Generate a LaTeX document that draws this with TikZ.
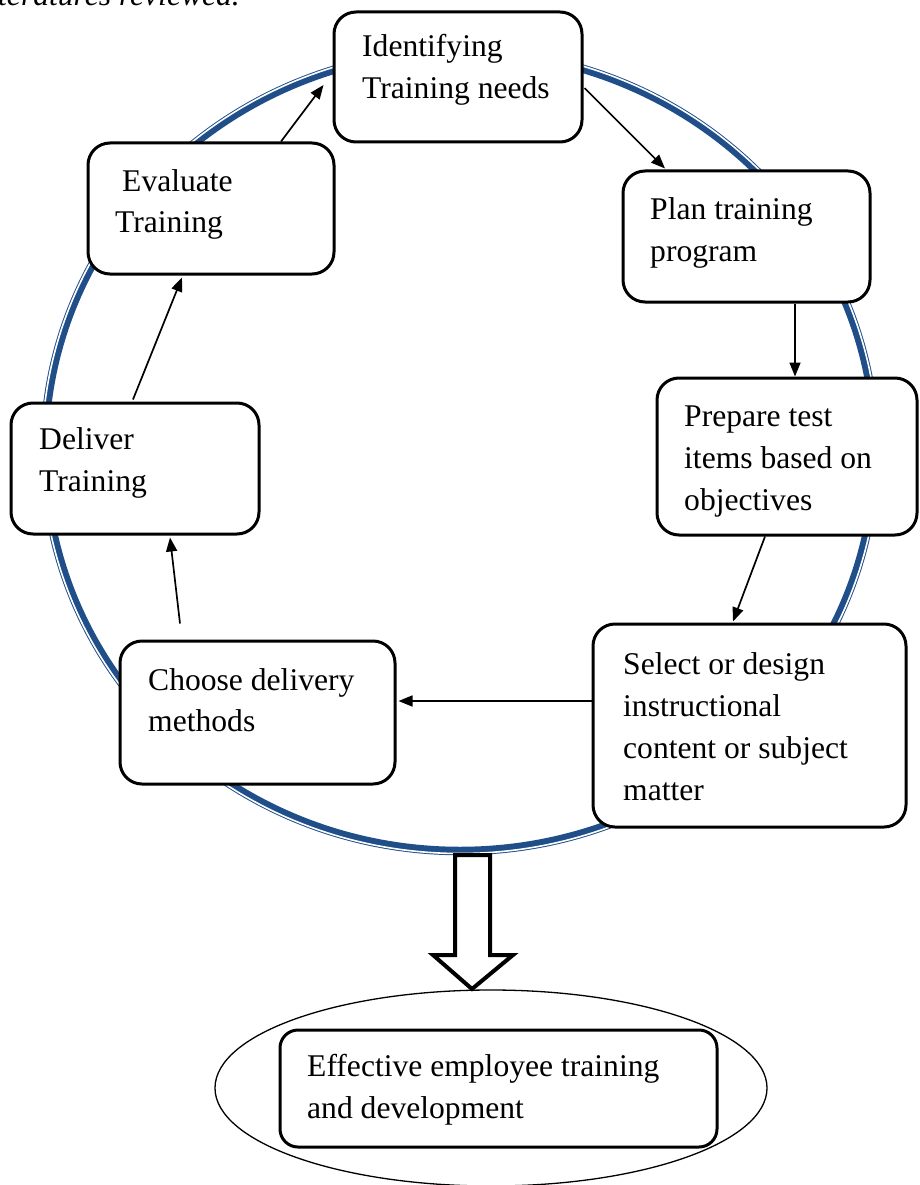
\documentclass[tikz,border=0pt]{standalone}
\usepackage{fontspec}
\setmainfont{Liberation Serif}
\usetikzlibrary{shapes.geometric,arrows.meta,calc}
\definecolor{ringblue}{RGB}{31,78,137}
\begin{document}
\begin{tikzpicture}[x=1pt,y=-1pt,
  box/.style={draw,line width=3pt,rounded corners=22pt,fill=white,inner sep=0pt},
  lbl/.style={anchor=base west,inner sep=0pt,font=\fontsize{31.6}{42}\selectfont},
  conn/.style={line width=1.7pt,-{Triangle[length=14pt,width=11pt]}}]
\useasboundingbox (0,0) rectangle (919,1185);
\clip (0,0) rectangle (919,1185);

% cut-off text at top
\node[lbl,anchor=base east,font=\fontsize{31.6}{42}\selectfont\itshape] (toptext) at (240,6) {literatures reviewed.};

% ring
\draw[ringblue,line width=8.5pt] (460,451) ellipse [x radius=415.5, y radius=400];
\draw[white,line width=1.6pt] (460,451) ellipse [x radius=418, y radius=402.5];

% bottom ellipse
\node[draw,ellipse,line width=1.3pt,minimum width=552pt,minimum height=196pt,inner sep=0pt] (goal) at (491,1088) {};

% hollow arrow
\draw[line width=4pt,fill=white,line join=miter] (455,855) -- (490,855) -- (490,955) -- (513,955) -- (472,989) -- (433,955) -- (455,955) -- cycle;

% boxes
\node[box,minimum width=248pt,minimum height=130pt] (ident) at (458,77) {};
\node[box,minimum width=247pt,minimum height=131pt] (plan) at (746.5,236.5) {};
\node[box,minimum width=260pt,minimum height=157pt] (prep) at (787,456.5) {};
\node[box,minimum width=313pt,minimum height=203pt] (sel) at (749.5,725.5) {};
\node[box,minimum width=275pt,minimum height=143pt] (choose) at (257.5,712.5) {};
\node[box,minimum width=248pt,minimum height=131pt] (deliv) at (135,468.5) {};
\node[box,minimum width=246pt,minimum height=131pt] (eval) at (211,208.5) {};
\node[box,minimum width=437pt,minimum height=117pt,rounded corners=18pt] (eff) at (498.5,1088.5) {};

% labels
\node[lbl] (t1a) at (362,57) {Identifying};
\node[lbl] (t1b) at (362,99) {Training needs};
\node[lbl] (t2a) at (650,219) {Plan training};
\node[lbl] (t2b) at (650,261) {program};
\node[lbl] (t3a) at (684,426) {Prepare test};
\node[lbl] (t3b) at (684,468) {items based on};
\node[lbl] (t3c) at (684,510) {objectives};
\node[lbl] (t4a) at (623,674) {Select or design};
\node[lbl] (t4b) at (623,716) {instructional};
\node[lbl] (t4c) at (623,758) {content or subject};
\node[lbl] (t4d) at (623,800) {matter};
\node[lbl] (t5a) at (148,690) {Choose delivery};
\node[lbl] (t5b) at (148,731) {methods};
\node[lbl] (t6a) at (39,449) {Deliver};
\node[lbl] (t6b) at (39,491) {Training};
\node[lbl] (t7a) at (122,191) {Evaluate};
\node[lbl] (t7b) at (115,232) {Training};
\node[lbl] (t8a) at (307,1076) {Effective employee training};
\node[lbl] (t8b) at (307,1118) {and development};

% connectors
\draw[conn] ($(eval.north)+(70,0)$) -- ($(ident.west)+(-9,8)$);
\draw[conn] ($(ident.east)+(1,11)$) -- ($(plan.north)+(-81.5,-1)$);
\draw[conn] ($(plan.south)+(48.5,0)$) -- ($(prep.north)+(8,0)$);
\draw[conn] ($(prep.south)+(-22,0)$) -- ($(sel.north)+(-16.5,-1)$);
\draw[conn] ($(sel.west)+(0,-24.5)$) -- ($(choose.east)+(2,-11.5)$);
\draw[conn] ($(choose.north)+(-77.5,-16)$) -- ($(deliv.south)+(35,2)$);
\draw[conn] ($(deliv.north)+(-2,-2)$) -- ($(eval.south)+(-29,2)$);
\end{tikzpicture}
\end{document}
